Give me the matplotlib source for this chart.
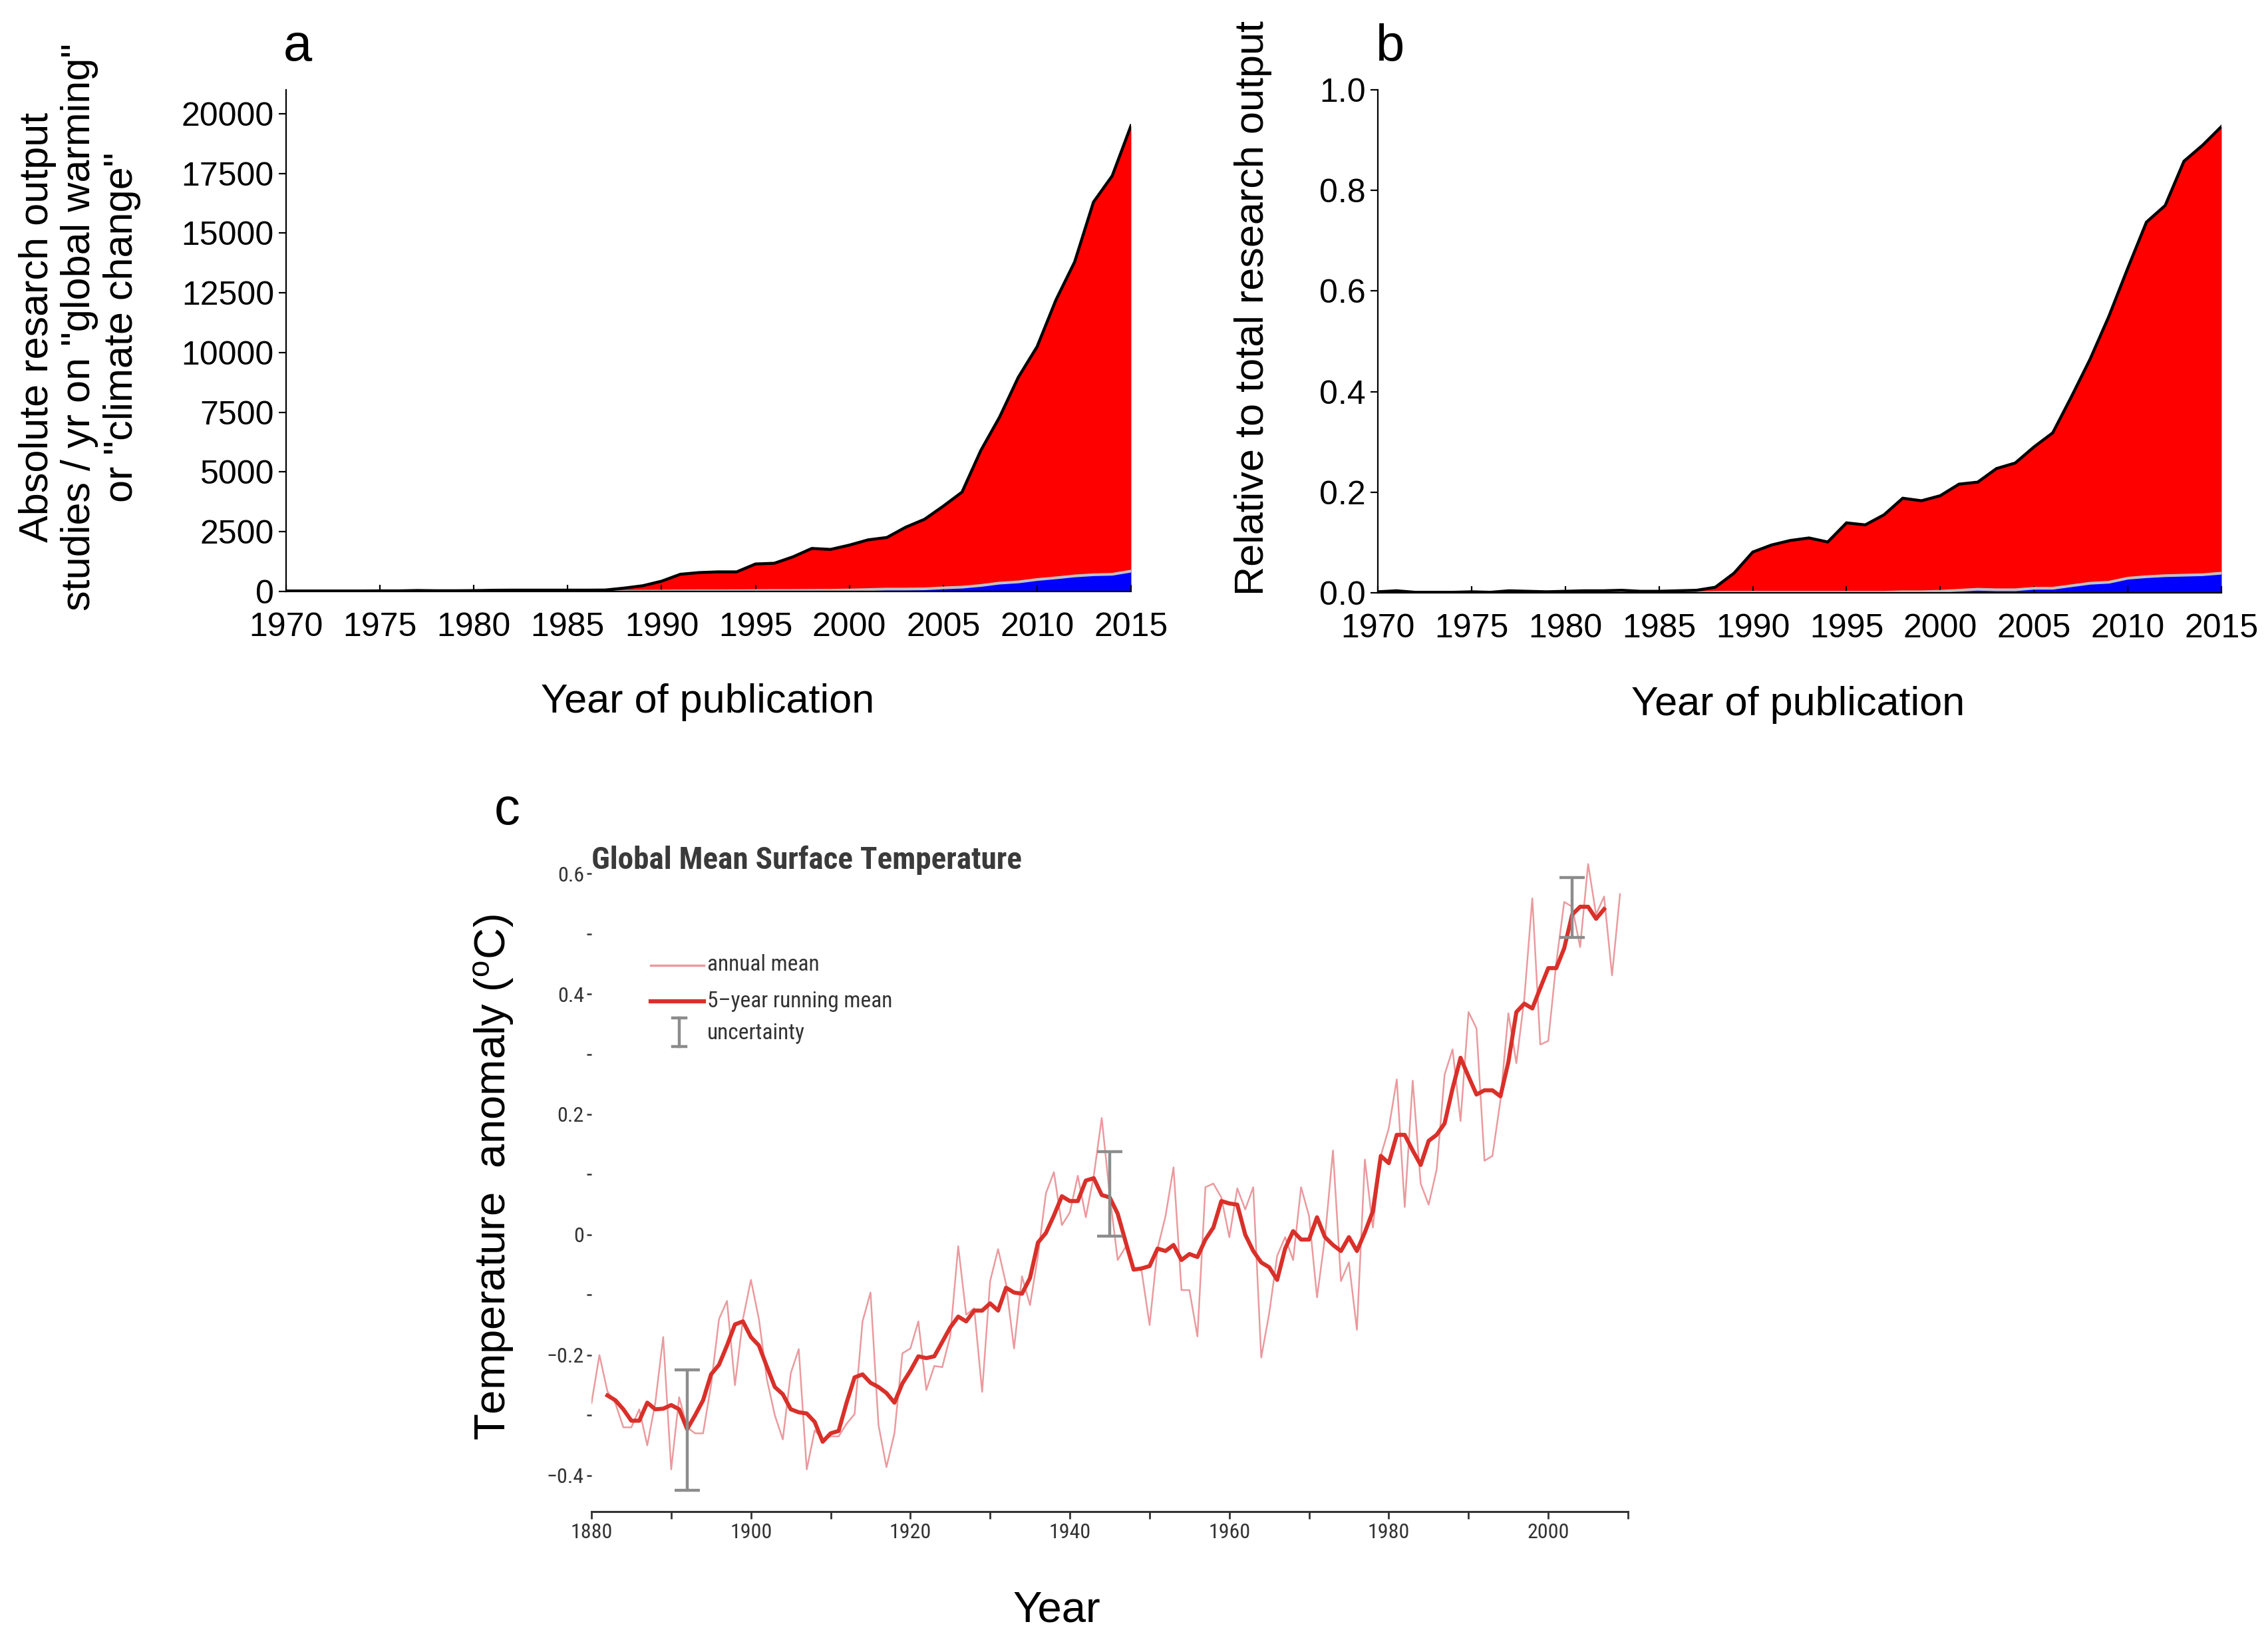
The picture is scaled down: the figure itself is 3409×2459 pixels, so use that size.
import numpy as np
import matplotlib
matplotlib.use('Agg')
import matplotlib.pyplot as plt
from matplotlib import font_manager as fm
from matplotlib.lines import Line2D

# ---------------- data ----------------
years_ab = list(range(1970, 2016))
total_a = [20, 20, 20, 20, 20, 25, 25, 40, 30, 30,
           35, 50, 55, 55, 55, 55, 55, 60, 140, 240,
           430, 720, 790, 820, 820, 1150, 1180, 1450, 1800, 1760,
           1940, 2160, 2260, 2690, 3020, 3570, 4160, 5900, 7300, 8970,
           10250, 12200, 13800, 16300, 17400, 19500]
blue_a = [0, 0, 0, 0, 0, 0, 0, 0, 0, 0,
          0, 0, 0, 0, 0, 0, 0, 0, 5, 10,
          15, 20, 25, 25, 30, 35, 40, 40, 45, 50,
          60, 80, 100, 100, 110, 150, 180, 250, 350, 400,
          500, 570, 650, 700, 720, 850]
total_b = [0.002, 0.004, 0.001, 0.001, 0.001, 0.002, 0.001, 0.004, 0.003, 0.002,
           0.003, 0.004, 0.004, 0.005, 0.003, 0.003, 0.004, 0.005, 0.011, 0.039,
           0.081, 0.095, 0.104, 0.109, 0.101, 0.139, 0.135, 0.155, 0.188, 0.183,
           0.193, 0.216, 0.220, 0.247, 0.258, 0.290, 0.318, 0.390, 0.465, 0.550,
           0.645, 0.737, 0.770, 0.858, 0.890, 0.927]
blue_b = [0.0, 0.0, 0.0, 0.0, 0.0, 0.0, 0.0, 0.0, 0.0, 0.0,
          0.0, 0.0, 0.0, 0.0, 0.0, 0.0, 0.0, 0.0, 0.001, 0.001,
          0.001, 0.001, 0.001, 0.001, 0.001, 0.001, 0.001, 0.001, 0.002, 0.002,
          0.003, 0.005, 0.007, 0.006, 0.006, 0.009, 0.009, 0.014, 0.019, 0.021,
          0.029, 0.032, 0.034, 0.035, 0.036, 0.039]

years_annual = list(range(1880, 2010))
annual_mean = [
    -0.28, -0.20, -0.26, -0.28, -0.32, -0.32, -0.29, -0.35, -0.28, -0.17,
    -0.39, -0.27, -0.32, -0.33, -0.33, -0.25, -0.14, -0.11, -0.25, -0.14,
    -0.075, -0.14, -0.24, -0.30, -0.34, -0.23, -0.19, -0.39, -0.325, -0.34,
    -0.335, -0.335, -0.314, -0.298, -0.144, -0.096, -0.316, -0.386, -0.33, -0.197,
    -0.189, -0.144, -0.258, -0.218, -0.22, -0.168, -0.019, -0.133, -0.122, -0.261,
    -0.077, -0.024, -0.082, -0.189, -0.069, -0.117, -0.035, 0.069, 0.104, 0.016,
    0.037, 0.098, 0.029, 0.098, 0.194, 0.066, -0.042, -0.02, -0.054, -0.06,
    -0.15, -0.023, 0.031, 0.112, -0.092, -0.092, -0.169, 0.079, 0.085, 0.062,
    -0.004, 0.077, 0.042, 0.079, -0.204, -0.131, -0.035, -0.004, -0.042, 0.079,
    0.031, -0.104, -0.004, 0.14, -0.077, -0.046, -0.158, 0.125, 0.012, 0.131,
    0.177, 0.258, 0.046, 0.256, 0.085, 0.05, 0.108, 0.266, 0.308, 0.189,
    0.37, 0.343, 0.123, 0.131, 0.223, 0.368, 0.285, 0.393, 0.559, 0.316,
    0.322, 0.451, 0.553, 0.545, 0.478, 0.616, 0.532, 0.562, 0.431, 0.566]

years_running = list(range(1882, 2008))
running_mean = [
    -0.267, -0.275, -0.29, -0.309, -0.309, -0.279, -0.29, -0.289,
    -0.283, -0.29, -0.323, -0.30, -0.275, -0.232, -0.216, -0.184, -0.149, -0.144,
    -0.17, -0.184, -0.219, -0.253, -0.265, -0.29, -0.295, -0.297, -0.311, -0.344,
    -0.33, -0.326, -0.279, -0.237, -0.232, -0.246, -0.253, -0.263, -0.279, -0.247,
    -0.226, -0.202, -0.205, -0.202, -0.178, -0.154, -0.136, -0.144, -0.126, -0.126,
    -0.114, -0.126, -0.088, -0.096, -0.098, -0.072, -0.013, 0.003, 0.032, 0.064,
    0.056, 0.056, 0.09, 0.094, 0.066, 0.062, 0.035, -0.012, -0.058, -0.056,
    -0.052, -0.023, -0.027, -0.017, -0.042, -0.032, -0.037, -0.008, 0.012, 0.056,
    0.052, 0.05, 0.0, -0.027, -0.046, -0.054, -0.075, -0.023, 0.006, -0.008,
    -0.008, 0.029, -0.004, -0.017, -0.027, -0.004, -0.027, 0.004, 0.039, 0.131,
    0.119, 0.166, 0.166, 0.14, 0.116, 0.156, 0.166, 0.185, 0.243, 0.294,
    0.263, 0.233, 0.24, 0.24, 0.23, 0.287, 0.37, 0.384, 0.376, 0.41,
    0.443, 0.443, 0.476, 0.532, 0.545, 0.545, 0.525, 0.541]

unc_years = [1892, 1945, 2003]
unc_center = [-0.325, 0.068, 0.544]
unc_half = [0.10, 0.07, 0.05]

a_yticks = [0, 2500, 5000, 7500, 10000, 12500, 15000, 17500, 20000]
b_yticks = [0.0, 0.2, 0.4, 0.6, 0.8, 1.0]
ab_xticks = [1970, 1975, 1980, 1985, 1990, 1995, 2000, 2005, 2010, 2015]
c_xmajor = [1880, 1900, 1920, 1940, 1960, 1980, 2000]
c_xminor = [1890, 1910, 1930, 1950, 1970, 1990, 2010]
c_ymajor = [-0.4, -0.2, 0.0, 0.2, 0.4, 0.6]
c_ylabels = ['\u22120.4', '\u22120.2', '0', '0.2', '0.4', '0.6']
c_yminor = [-0.3, -0.1, 0.1, 0.3, 0.5]

# ---------------- fonts ----------------
plt.rcParams['font.family'] = ['Liberation Sans', 'DejaVu Sans']
plt.rcParams['mathtext.fontset'] = 'custom'
plt.rcParams['mathtext.rm'] = 'Liberation Sans'
names = {f.name for f in fm.fontManager.ttflist}
NARROW = next((n for n in ['Liberation Sans Narrow', 'Roboto Condensed',
                           'Open Sans Condensed'] if n in names), None)


def narrow(**kw):
    if NARROW:
        d = dict(family=[NARROW, 'DejaVu Sans'])
    else:
        d = dict(family=['DejaVu Sans'], stretch='condensed')
    d.update(kw)
    return d


W, H = 3409, 2459
fig = plt.figure(figsize=(W / 100, H / 100), dpi=100)


def box(l, t, r, b):
    return [l / W, 1 - b / H, (r - l) / W, (b - t) / H]


GRAYTXT = '#333333'

# ---------------- panel a ----------------
axa = fig.add_axes(box(430, 135, 1700, 889))
axa.fill_between(years_ab, 0, blue_a, color='#0000ff', lw=0)
axa.fill_between(years_ab, blue_a, total_a, color='#ff0000', lw=0)
axa.plot(years_ab, blue_a, color='#c0c0c0', lw=3)
axa.plot(years_ab, total_a, color='black', lw=3.2, solid_joinstyle='miter')
axa.set_xlim(1970, 2015)
axa.set_ylim(0, 21000)
axa.set_xticks(ab_xticks)
axa.set_yticks(a_yticks)
axa.set_yticklabels([str(v) for v in a_yticks])

# ---------------- panel b ----------------
axb = fig.add_axes(box(2071, 135, 3339, 891))
axb.fill_between(years_ab, 0, blue_b, color='#0000ff', lw=0)
axb.fill_between(years_ab, blue_b, total_b, color='#ff0000', lw=0)
axb.plot(years_ab, blue_b, color='#c0c0c0', lw=3)
axb.plot(years_ab, total_b, color='black', lw=3.2, solid_joinstyle='miter')
axb.set_xlim(1970, 2015)
axb.set_ylim(0, 1.0)
axb.set_xticks(ab_xticks)
axb.set_yticks(b_yticks)
axb.set_yticklabels(['%.1f' % v for v in b_yticks])

for ax in (axa, axb):
    for s in ('top', 'right'):
        ax.spines[s].set_visible(False)
    ax.spines['left'].set_linewidth(1.6)
    ax.spines['bottom'].set_linewidth(1.6)
    ax.tick_params(axis='x', direction='in', length=7, width=1.6,
                   labelsize=36, pad=22)
    ax.tick_params(axis='y', direction='out', length=8, width=1.6,
                   labelsize=36, pad=5)

fig.text(120 / W, 1 - 492 / H,
         'Absolute resarch output\nstudies / yr on "global warming"\nor "climate change"',
         rotation=90, ha='center', va='center', multialignment='center',
         fontsize=44, linespacing=1.15)
fig.text(1064 / W, 1 - 1055 / H, 'Year of publication', ha='center',
         va='center', fontsize=44)
fig.text(1883 / W, 1 - 463 / H, 'Relative to total research output',
         rotation=90, ha='center', va='center', fontsize=44)
fig.text(2703 / W, 1 - 1060 / H, 'Year of publication', ha='center',
         va='center', fontsize=44)
fig.text(447 / W, 1 - 71 / H, 'a', ha='center', va='center', fontsize=56)
fig.text(2090 / W, 1 - 71 / H, 'b', ha='center', va='center', fontsize=56)
fig.text(762 / W, 1 - 1218 / H, 'c', ha='center', va='center', fontsize=56)

# ---------------- panel c ----------------
axc = fig.add_axes(box(889, 1286, 2447, 2272))
axc.plot(years_annual, annual_mean, color='#ea9a9e', lw=1.8)
axc.plot(years_running, running_mean, color='#d9302a', lw=4.4,
         solid_joinstyle='round')
axc.errorbar(unc_years, unc_center, yerr=unc_half, fmt='none',
             ecolor='#8c8c8c', elinewidth=3.2, capsize=14, capthick=3.2)
axc.set_xlim(1880, 2010)
axc.set_ylim(-0.46, 0.63)
for s in ('top', 'right', 'left'):
    axc.spines[s].set_visible(False)
axc.spines['bottom'].set_color('#333333')
axc.spines['bottom'].set_linewidth(2.2)
axc.set_xticks(c_xmajor)
axc.set_xticks(c_xminor, minor=True)
axc.set_xticklabels([str(v) for v in c_xmajor])
axc.set_yticks(c_ymajor)
axc.set_yticks(c_yminor, minor=True)
axc.set_yticklabels(c_ylabels)
axc.tick_params(axis='x', which='both', direction='out', length=8, width=2,
                color='#333333', pad=4)
axc.tick_params(axis='y', which='both', direction='out', length=5, width=1.8,
                color='#333333', pad=3)
for lab in axc.get_xticklabels() + axc.get_yticklabels():
    lab.set_fontproperties(fm.FontProperties(**narrow(size=23)))
    lab.set_color(GRAYTXT)

fig.text(889 / W, 1 - 1293 / H, 'Global Mean Surface Temperature',
         ha='left', va='center', color='#3a3a3a',
         **narrow(size=34, weight='bold'))


# legend (drawn in figure pixel coordinates)
def lx(px):
    return px / W


def ly(py):
    return 1 - py / H


fig.add_artist(Line2D([lx(978), lx(1058)], [ly(1451), ly(1451)],
                      color='#ea9a9e', lw=2.5))
fig.add_artist(Line2D([lx(978), lx(1058)], [ly(1505), ly(1505)],
                      color='#d9302a', lw=4.5))
fig.add_artist(Line2D([lx(1021), lx(1021)], [ly(1530), ly(1573)],
                      color='#8c8c8c', lw=3.2))
fig.add_artist(Line2D([lx(1011), lx(1031)], [ly(1530), ly(1530)],
                      color='#8c8c8c', lw=3.2))
fig.add_artist(Line2D([lx(1011), lx(1031)], [ly(1573), ly(1573)],
                      color='#8c8c8c', lw=3.2))
for txt, py in (('annual mean', 1450), ('5\u2013year running mean', 1505),
                ('uncertainty', 1553)):
    fig.text(lx(1063), ly(py), txt, ha='left', va='center', color=GRAYTXT,
             **narrow(size=24))

fig.text(743 / W, 1 - 1770 / H, r'Temperature  anomaly ($\mathregular{^o}$C)',
         rotation=90, ha='center', va='center', fontsize=47)
fig.text(1588 / W, 1 - 2421 / H, 'Year', ha='center', va='center',
         fontsize=47)

fig.savefig('out.png', dpi=100, facecolor='white')
